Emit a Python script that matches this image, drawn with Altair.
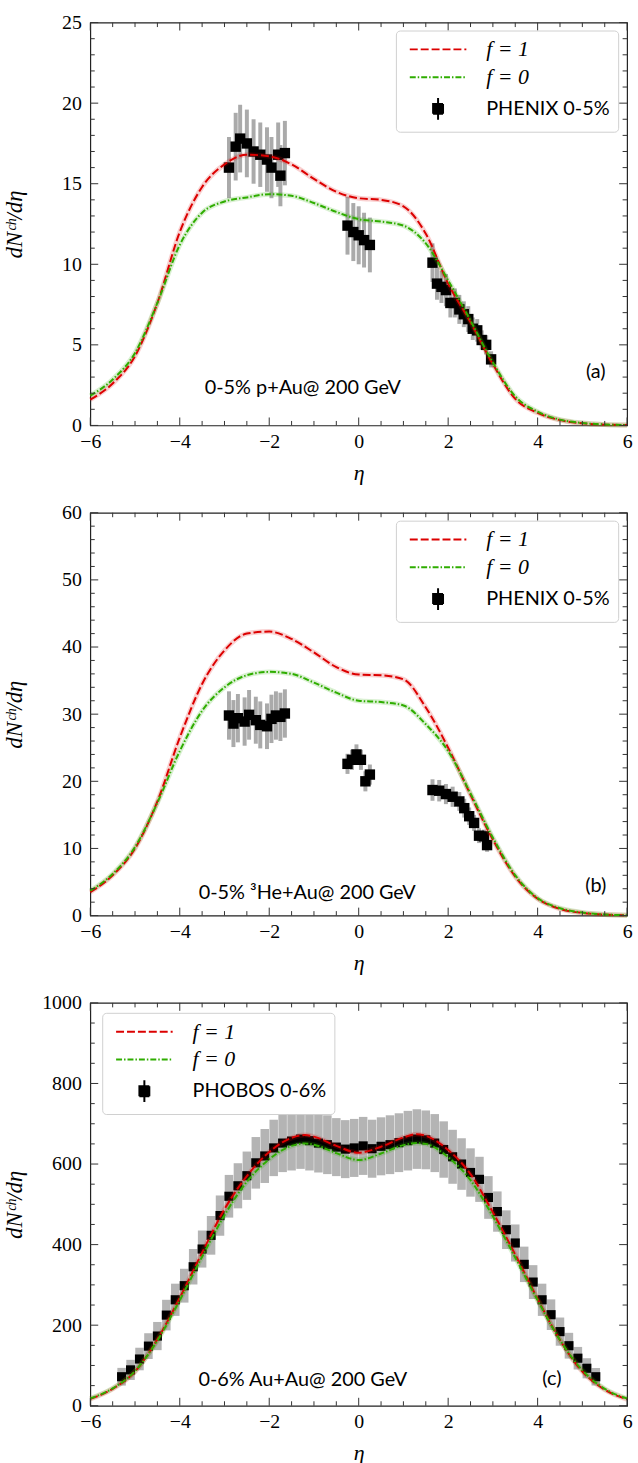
import altair as alt
import pandas as pd

W, H = 541, 406
RED = "#dc0000"
GREEN = "#2fad00"
SERIF = "Liberation Serif"
SANS = "Lato"

# ---------------- panel (a): p+Au ----------------
a_curve_eta = [-6, -5.5, -5, -4.5, -4, -3.5, -3, -2.5, -2, -1.5, -1, -0.5, 0, 0.5, 1, 1.5, 2, 2.5, 3, 3.5, 4, 4.5, 5, 5.5, 6]
a_f1 = [1.6, 2.6, 4.3, 7.6, 12.0, 14.8, 16.2, 16.8, 16.7, 16.2, 15.3, 14.5, 14.1, 14.0, 13.6, 11.9, 8.8, 6.4, 3.8, 1.65, 0.78, 0.33, 0.13, 0.05, 0.02]
a_f0 = [1.85, 2.85, 4.5, 7.6, 11.2, 13.2, 13.9, 14.15, 14.35, 14.25, 13.8, 13.25, 12.8, 12.65, 12.4, 11.3, 9.0, 6.5, 3.9, 1.8, 0.85, 0.36, 0.15, 0.06, 0.02]
a_data_eta = [-2.9, -2.75, -2.65, -2.5, -2.35, -2.2, -2.05, -1.95, -1.75, -1.8, -1.65,
              -0.25, -0.12, 0.0, 0.12, 0.25,
              1.65, 1.75, 1.85, 1.95, 2.05, 2.15, 2.25, 2.35, 2.45, 2.55, 2.65, 2.75, 2.85, 2.96]
a_data_val = [16.0, 17.3, 17.8, 17.5, 17.0, 16.8, 16.5, 16.0, 15.5, 16.8, 16.9,
              12.4, 12.0, 11.8, 11.5, 11.2,
              10.1, 8.8, 8.6, 8.4, 7.6, 7.6, 7.2, 6.9, 6.6, 6.0, 5.9, 5.3, 5.0, 4.1]
a_data_err = [1.9, 2.1, 2.1, 2.1, 2.0, 2.0, 2.0, 1.9, 1.9, 2.0, 2.0,
              1.8, 1.8, 1.8, 1.7, 1.7,
              1.2, 1.0, 1.0, 1.0, 0.9, 0.9, 0.9, 0.8, 0.8, 0.7, 0.7, 0.6, 0.6, 0.5]

# ---------------- panel (b): 3He+Au ----------------
b_curve_eta = a_curve_eta
b_f1 = [3.5, 6.0, 10.0, 17.0, 26.5, 34.5, 39.5, 42.0, 42.3, 41.2, 39.2, 37.0, 35.9, 35.8, 35.2, 31.0, 25.0, 18.0, 11.3, 5.8, 2.5, 1.0, 0.4, 0.15, 0.05]
b_f0 = [3.7, 6.2, 10.2, 16.8, 24.5, 30.5, 34.0, 35.8, 36.3, 36.0, 34.7, 33.2, 32.0, 31.8, 31.3, 28.5, 24.5, 18.2, 11.6, 6.0, 2.6, 1.1, 0.45, 0.17, 0.05]
b_data_eta = [-2.9, -2.8, -2.7, -2.55, -2.45, -2.3, -2.2, -2.05, -1.95, -1.85, -1.75, -1.65,
              -0.25, -0.15, -0.05, 0.05, 0.15, 0.25,
              1.65, 1.8, 1.95, 2.1, 2.25, 2.36, 2.47, 2.58, 2.69, 2.8, 2.87]
b_data_val = [29.8, 28.6, 29.4, 28.9, 29.9, 29.1, 28.4, 28.2, 29.3, 29.8, 29.6, 30.1,
              22.6, 23.2, 24.0, 23.2, 20.0, 21.0,
              18.7, 18.6, 18.1, 17.7, 17.0, 16.0, 14.8, 13.8, 11.9, 11.8, 10.5]
b_data_err = [3.6, 3.5, 3.6, 3.6, 3.7, 3.5, 3.5, 3.4, 3.6, 3.6, 3.6, 3.6,
              1.5, 1.5, 1.5, 1.5, 1.5, 1.5,
              1.6, 1.6, 1.5, 1.5, 1.4, 1.4, 1.3, 1.2, 1.1, 1.0, 1.0]

# ---------------- panel (c): Au+Au ----------------
c_curve_eta = [-6, -5.5, -5, -4.5, -4, -3.5, -3, -2.5, -2, -1.5, -1.2, -1, -0.5, 0, 0.5, 1, 1.3, 1.5, 2, 2.5, 3, 3.5, 4, 4.5, 5, 5.5, 6]
c_f1 = [17, 42, 85, 165, 268, 380, 488, 570, 630, 665, 672, 668, 645, 628, 643, 666, 674, 670, 635, 575, 480, 375, 265, 163, 85, 40, 16]
c_f0 = [18, 43, 86, 162, 262, 370, 473, 556, 612, 645, 651, 648, 627, 610, 626, 647, 652, 650, 617, 560, 470, 368, 262, 163, 88, 42, 18]
c_data_eta = [-5.3, -5.1, -4.9, -4.7, -4.5, -4.3, -4.1, -3.9, -3.7, -3.5, -3.3, -3.1, -2.9, -2.7, -2.5, -2.3, -2.1, -1.9, -1.7,
              -1.5, -1.3, -1.1, -0.9, -0.7, -0.5, -0.3, -0.1, 0.1, 0.3, 0.5, 0.7, 0.9, 1.1, 1.3, 1.5, 1.7, 1.9, 2.1, 2.3,
              2.5, 2.7, 2.9, 3.1, 3.3, 3.5, 3.7, 3.9, 4.1, 4.3, 4.5, 4.7, 4.9, 5.1, 5.3]
c_data_val = [72, 89, 116, 148, 173, 225, 263, 298, 345, 389, 423, 472, 520, 546, 571, 603, 620, 640, 652,
              657, 662, 658, 652, 648, 642, 637, 640, 645, 638, 644, 648, 653, 658, 662, 660, 652, 636, 618, 600,
              579, 562, 517, 482, 437, 404, 351, 307, 263, 226, 184, 149, 118, 93, 72]
c_data_err = [22, 25, 28, 32, 35, 38, 40, 42, 44, 46, 48, 50, 53, 56, 60, 64, 67, 70, 72,
              73, 74, 74, 73, 73, 72, 72, 72, 72, 72, 72, 73, 73, 74, 74, 73, 72, 70, 67, 64,
              60, 56, 53, 50, 48, 46, 44, 42, 40, 38, 35, 32, 28, 25, 22]

X_MAJOR = [-6, -4, -2, 0, 2, 4, 6]
X_MINOR = [-5.5, -5, -4.5, -3.5, -3, -2.5, -1.5, -1, -0.5, 0.5, 1, 1.5, 2.5, 3, 3.5, 4.5, 5, 5.5]

LINE_PATH = "M-1,0H10.4"
SQ_PATH = "M3.7,-1H5.7V1H3.7Z M4.7,-2.2V2.2"


def make_legend(name, lx, ly):
    cond = f"datum.label == '{name}'"
    return alt.Legend(
        title=None, orient="none", legendX=lx, legendY=ly,
        fillColor="white", strokeColor="#d0d0d0", cornerRadius=4, padding=8,
        symbolSize=100, symbolStrokeWidth=2,
        symbolType=alt.ExprRef(f"{cond} ? '{SQ_PATH}' : '{LINE_PATH}'"),
        labelFont=alt.ExprRef(f"{cond} ? '{SANS}' : '{SERIF}'"),
        labelFontStyle=alt.ExprRef(f"{cond} ? 'normal' : 'italic'"),
        labelFontSize=alt.ExprRef(f"{cond} ? 20 : 22"),
        labelOffset=61, rowPadding=6, labelColor="black", labelLimit=400,
    )


def panel(curve_eta, f1, f0, d_eta, d_val, d_err, name, ymax, y_major, y_minor,
          ann, ann_xy, tag, tag_xy, leg_xy, boxes, sq_size):
    curves = pd.DataFrame({
        "eta": list(curve_eta) * 2,
        "val": list(f1) + list(f0),
        "series": ["f = 1"] * len(f1) + ["f = 0"] * len(f0),
    })
    pts = pd.DataFrame({"eta": d_eta, "val": d_val, "err": d_err, "series": name})
    dom = ["f = 1", "f = 0", name]
    leg = make_legend(name, *leg_xy)
    xs = alt.Scale(domain=[-6, 6], nice=False, zero=False)
    ys = alt.Scale(domain=[0, ymax], nice=False)
    xaxis = alt.Axis(values=X_MAJOR, ticks=False, domain=False, grid=False, labelFlush=False,
                     labelFont=SERIF, labelFontSize=20, labelColor="black", labelPadding=6,
                     labelExpr="replace(datum.label, '-', '\u2212')",
                     title="\u03b7", titleFont=SERIF, titleFontStyle="italic", titleFontSize=22,
                     titleFontWeight="normal", titleColor="black", titlePadding=11)
    yaxis = alt.Axis(values=y_major, ticks=False, domain=False, grid=False, labelFlush=False,
                     format="d",
                     labelFont=SERIF, labelFontSize=20, labelColor="black", labelPadding=9,
                     title="dN\u1d9c\u02b0/d\u03b7", titleFont=SERIF, titleFontStyle="italic",
                     titleFontSize=23, titleFontWeight="normal", titleColor="black",
                     titleX=-64, titleBaseline="bottom")
    X = alt.X("eta:Q", scale=xs, axis=xaxis)
    Y = alt.Y("val:Q", scale=ys, axis=yaxis)
    color = alt.Color("series:N", scale=alt.Scale(domain=dom, range=[RED, GREEN, "black"]), legend=leg)
    dash = alt.StrokeDash("series:N", scale=alt.Scale(domain=dom, range=[[8, 3], [6, 2, 1.5, 2], [1, 0]]), legend=leg)

    base_pts = alt.Chart(pts)
    if boxes:
        err = base_pts.transform_calculate(
            lo="datum.val - datum.err", hi="datum.val + datum.err",
            x0="datum.eta - 0.095", x1="datum.eta + 0.095",
        ).mark_rect(color="#b4b4b4").encode(x=alt.X("x0:Q", scale=xs, axis=xaxis), x2="x1:Q",
                                            y=alt.Y("lo:Q", scale=ys, axis=yaxis), y2="hi:Q")
    else:
        err = base_pts.transform_calculate(
            lo="datum.val - datum.err", hi="datum.val + datum.err",
        ).mark_rule(color="#aaaaaa", strokeWidth=4).encode(x=X, y=alt.Y("lo:Q", scale=ys, axis=yaxis), y2="hi:Q")
    squares = base_pts.mark_square(size=sq_size, filled=True, opacity=1).encode(x=X, y=Y, color=color)

    base_c = alt.Chart(curves)
    halo_r = base_c.transform_filter(alt.datum.series == "f = 1").mark_line(
        color=RED, strokeWidth=5, opacity=0.18, interpolate="monotone").encode(x=X, y=Y)
    halo_g = base_c.transform_filter(alt.datum.series == "f = 0").mark_line(
        color=GREEN, strokeWidth=5, opacity=0.18, interpolate="monotone").encode(x=X, y=Y)
    lines = base_c.mark_line(strokeWidth=2, interpolate="monotone").encode(
        x=X, y=Y, color=color, strokeDash=dash, detail="series:N")

    texts = pd.DataFrame({"eta": [ann_xy[0], tag_xy[0]], "val": [ann_xy[1], tag_xy[1]], "t": [ann, tag]})
    txt = alt.Chart(texts).mark_text(font=SANS, fontSize=20, color="black", align="center",
                                     baseline="middle").encode(x=X, y=Y, text="t:N")

    def vticks(vals, length, top):
        df = pd.DataFrame({"eta": vals})
        y0, y1 = (0, length) if top else (H, H - length)
        return alt.Chart(df).mark_rule(color="#333333", strokeWidth=1).encode(
            x=X, y=alt.value(y0), y2=alt.value(y1))

    def hticks(vals, length, left):
        df = pd.DataFrame({"val": vals})
        x0, x1 = (0, length) if left else (W, W - length)
        return alt.Chart(df).mark_rule(color="#333333", strokeWidth=1).encode(
            y=Y, x=alt.value(x0), x2=alt.value(x1))

    ticks = [vticks(X_MAJOR, 8, True), vticks(X_MAJOR, 8, False),
             vticks(X_MINOR, 4.5, True), vticks(X_MINOR, 4.5, False),
             hticks(y_major, 8, True), hticks(y_major, 8, False),
             hticks(y_minor, 4.5, True), hticks(y_minor, 4.5, False)]

    return alt.layer(err, squares, halo_r, halo_g, lines, txt, *ticks).properties(width=W, height=H)


pa = panel(a_curve_eta, a_f1, a_f0, a_data_eta, a_data_val, a_data_err, "PHENIX 0-5%",
           25, [0, 5, 10, 15, 20, 25], [v for v in range(0, 26) if v % 5],
           "0-5% p+Au@ 200 GeV", (-1.25, 2.3), "(a)", (5.3, 3.3), (308, 8), False, 110)
pb = panel(b_curve_eta, b_f1, b_f0, b_data_eta, b_data_val, b_data_err, "PHENIX 0-5%",
           60, [0, 10, 20, 30, 40, 50, 60], [v for v in range(0, 61, 2) if v % 10],
           "0-5% \u00b3He+Au@ 200 GeV", (-1.15, 3.3), "(b)", (5.3, 4.4), (308, 8), False, 110)
pc = panel(c_curve_eta, c_f1, c_f0, c_data_eta, c_data_val, c_data_err, "PHOBOS 0-6%",
           1000, [0, 200, 400, 600, 800, 1000], [v for v in range(0, 1001, 50) if v % 200],
           "0-6% Au+Au@ 200 GeV", (-1.25, 63), "(c)", (4.32, 66), (12, 10), True, 85)

chart = alt.vconcat(pa, pb, pc, spacing=18).resolve_scale(
    color="independent", strokeDash="independent"
).resolve_legend(color="independent", strokeDash="independent").properties(
    padding={"left": 3, "top": 6, "right": 0, "bottom": 0}
).configure_view(stroke="#222222", strokeWidth=1.2).configure_axis(labelFont=SERIF)

chart.save("out.html", embed_options={"renderer": "svg", "actions": False})
